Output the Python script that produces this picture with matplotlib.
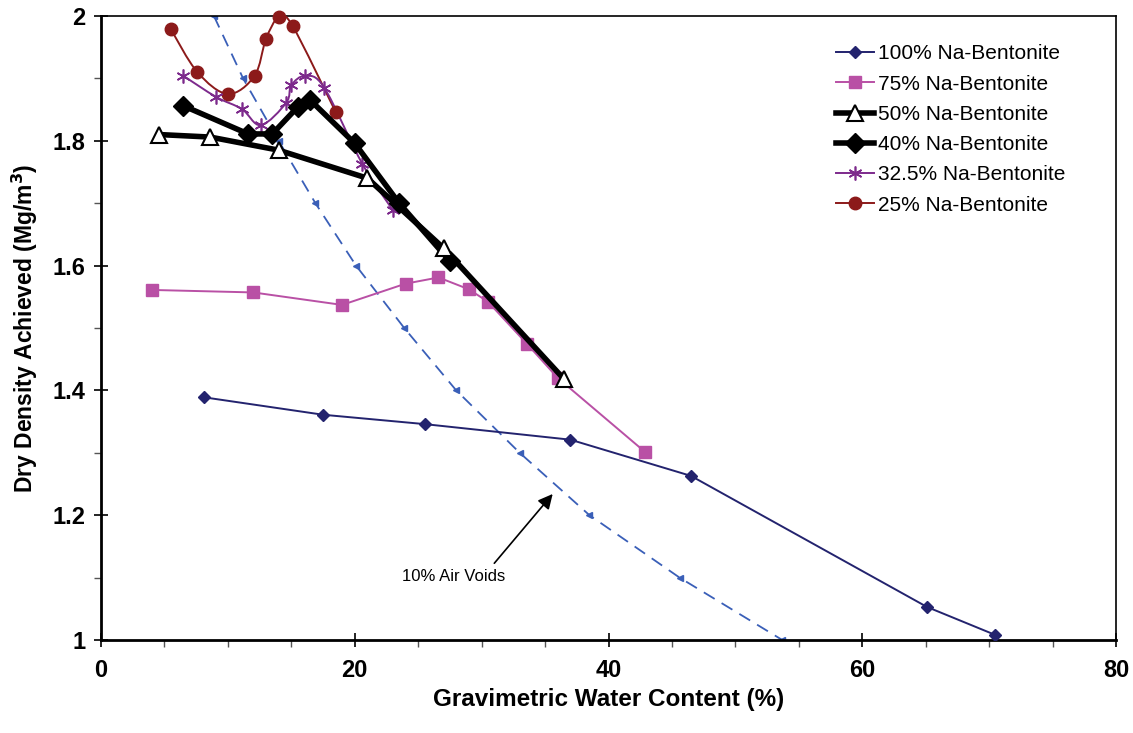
import numpy as np
import matplotlib
matplotlib.use("Agg")
import matplotlib.pyplot as plt
from matplotlib.path import Path
from matplotlib.patches import PathPatch
from matplotlib.lines import Line2D
from matplotlib.ticker import MultipleLocator

plt.rcParams['font.family'] = ['Liberation Sans', 'DejaVu Sans']

# water content (%) and dry density (Mg/m3)
w_100 = [8.1, 17.5, 25.5, 37.0, 46.5, 65.1, 70.5]
d_100 = [1.389, 1.361, 1.346, 1.321, 1.263, 1.053, 1.008]

w_75 = [4.0, 12.0, 19.0, 24.0, 26.6, 29.0, 30.5, 33.6, 36.0, 42.9]
d_75 = [1.561, 1.557, 1.537, 1.571, 1.581, 1.562, 1.542, 1.474, 1.420, 1.301]

w_50 = [4.6, 8.6, 14.0, 21.0, 27.0, 36.5]
d_50 = [1.810, 1.806, 1.785, 1.740, 1.628, 1.418]

w_40 = [6.5, 11.6, 13.5, 15.5, 16.5, 20.0, 23.5, 27.5]
d_40 = [1.856, 1.811, 1.811, 1.854, 1.865, 1.796, 1.700, 1.607]

w_325 = [6.5, 9.1, 11.1, 12.6, 14.6, 15.0, 16.1, 17.6, 20.6, 23.0]
d_325 = [1.904, 1.870, 1.851, 1.825, 1.861, 1.889, 1.904, 1.885, 1.763, 1.689]

w_25 = [5.5, 7.6, 10.0, 12.1, 13.0, 14.0, 15.1, 18.5]
d_25 = [1.979, 1.910, 1.875, 1.904, 1.963, 1.998, 1.984, 1.846]

# 10% air voids line
w_av = [8.9, 11.2, 14.0, 16.9, 20.1, 23.9, 28.0, 33.0, 38.5, 45.6, 53.7]
d_av = [2.0, 1.9, 1.8, 1.7, 1.6, 1.5, 1.4, 1.3, 1.2, 1.1, 1.0]

labels = ["100% Na-Bentonite", "75% Na-Bentonite", "50% Na-Bentonite",
          "40% Na-Bentonite", "32.5% Na-Bentonite", "25% Na-Bentonite"]


def smooth_path(x, y):
    # excel-like smoothed line: catmull-rom segments as cubic beziers
    p = np.column_stack([x, y])
    n = len(p)
    verts = [p[0]]
    codes = [Path.MOVETO]
    for i in range(n - 1):
        p0 = p[i - 1] if i > 0 else p[i]
        p3 = p[i + 2] if i + 2 < n else p[i + 1]
        c1 = p[i] + (p[i + 1] - p0) / 6.0
        c2 = p[i + 1] - (p3 - p[i]) / 6.0
        verts += [c1, c2, p[i + 1]]
        codes += [Path.CURVE4] * 3
    return Path(verts, codes)


fig = plt.figure(figsize=(11.33, 7.33), dpi=100)
ax = fig.add_axes([101 / 1133, 1 - 640 / 733, (1116 - 101) / 1133, (640 - 16) / 733])

navy = "#23236e"
pink = "#b950a5"
purple = "#7d2a8c"
red = "#8c1a1a"
blue = "#3a5fb8"

ax.plot(w_av, d_av, color=blue, lw=1.3, ls=(0, (7, 4.5)), marker="<", ms=4,
        mfc=blue, mec=blue, zorder=2)

ax.plot(w_100, d_100, color=navy, lw=1.4, marker="D", ms=6.5, mfc=navy, mec=navy, zorder=3)
ax.plot(w_75, d_75, color=pink, lw=1.4, marker="s", ms=8, mfc=pink, mec=pink, zorder=3)

ax.add_patch(PathPatch(smooth_path(w_25, d_25), fill=False, ec=red, lw=1.4, zorder=3))
ax.plot(w_25, d_25, ls="none", marker="o", ms=9, mfc=red, mec=red, zorder=4, clip_on=False)

ax.add_patch(PathPatch(smooth_path(w_325, d_325), fill=False, ec=purple, lw=1.4, zorder=3))
ax.plot(w_325, d_325, ls="none", marker=(6, 2, 0), ms=10, mec=purple, mew=1.2, zorder=4)

ax.plot(w_40, d_40, color="black", lw=4, marker="D", ms=10, mfc="black", mec="black",
        zorder=5)
ax.plot(w_50, d_50, color="black", lw=4, marker="^", ms=11, mfc="white", mec="black",
        mew=1.5, zorder=6)

ax.text(27.8, 1.101, "10% Air Voids", fontsize=12, ha="center", va="center")
ax.annotate("", xy=(35.6, 1.234), xytext=(31.0, 1.123),
            arrowprops=dict(arrowstyle="-|>", color="black", lw=1.2,
                            mutation_scale=22, shrinkA=0, shrinkB=0))

handles = [
    Line2D([], [], color=navy, lw=1.4, marker="D", ms=6.5, mfc=navy, mec=navy),
    Line2D([], [], color=pink, lw=1.4, marker="s", ms=8, mfc=pink, mec=pink),
    Line2D([], [], color="black", lw=4, marker="^", ms=11, mfc="white", mec="black", mew=1.5),
    Line2D([], [], color="black", lw=4, marker="D", ms=10, mfc="black", mec="black"),
    Line2D([], [], color=purple, lw=1.4, marker=(6, 2, 0), ms=10, mec=purple, mew=1.2),
    Line2D([], [], color=red, lw=1.4, marker="o", ms=9, mfc=red, mec=red),
]
ax.legend(handles, labels, loc="upper left", bbox_to_anchor=(826 / 1133, 1 - 34 / 733),
          bbox_transform=fig.transFigure, frameon=False, fontsize=15,
          handlelength=1.8, handletextpad=0.2, labelspacing=0.54, borderpad=0)

ax.set_xlim(0, 80)
ax.set_ylim(1, 2)
ax.xaxis.set_major_locator(MultipleLocator(20))
ax.xaxis.set_minor_locator(MultipleLocator(5))
ax.yaxis.set_major_locator(MultipleLocator(0.2))
ax.yaxis.set_minor_locator(MultipleLocator(0.1))
ax.set_yticks([1, 1.2, 1.4, 1.6, 1.8, 2])
ax.set_yticklabels(["1", "1.2", "1.4", "1.6", "1.8", "2"])

ax.tick_params(which="major", direction="inout", length=10, width=1.2, labelsize=17)
ax.tick_params(axis="x", which="major", pad=9)
ax.tick_params(axis="y", which="major", pad=6)
ax.tick_params(which="minor", direction="out", length=5, width=1, color="#555555")
for lab in ax.get_xticklabels() + ax.get_yticklabels():
    lab.set_fontweight("bold")

ax.spines["left"].set_linewidth(2)
ax.spines["bottom"].set_linewidth(2)
ax.spines["top"].set_linewidth(1.2)
ax.spines["right"].set_linewidth(1.2)

ax.set_xlabel("Gravimetric Water Content (%)", fontsize=17.5, fontweight="bold", labelpad=4)
ax.set_ylabel("Dry Density Achieved (Mg/m$^\\mathbf{3}$)", fontsize=16.5, fontweight="bold",
              labelpad=9)

fig.savefig("out.png", dpi=100)
